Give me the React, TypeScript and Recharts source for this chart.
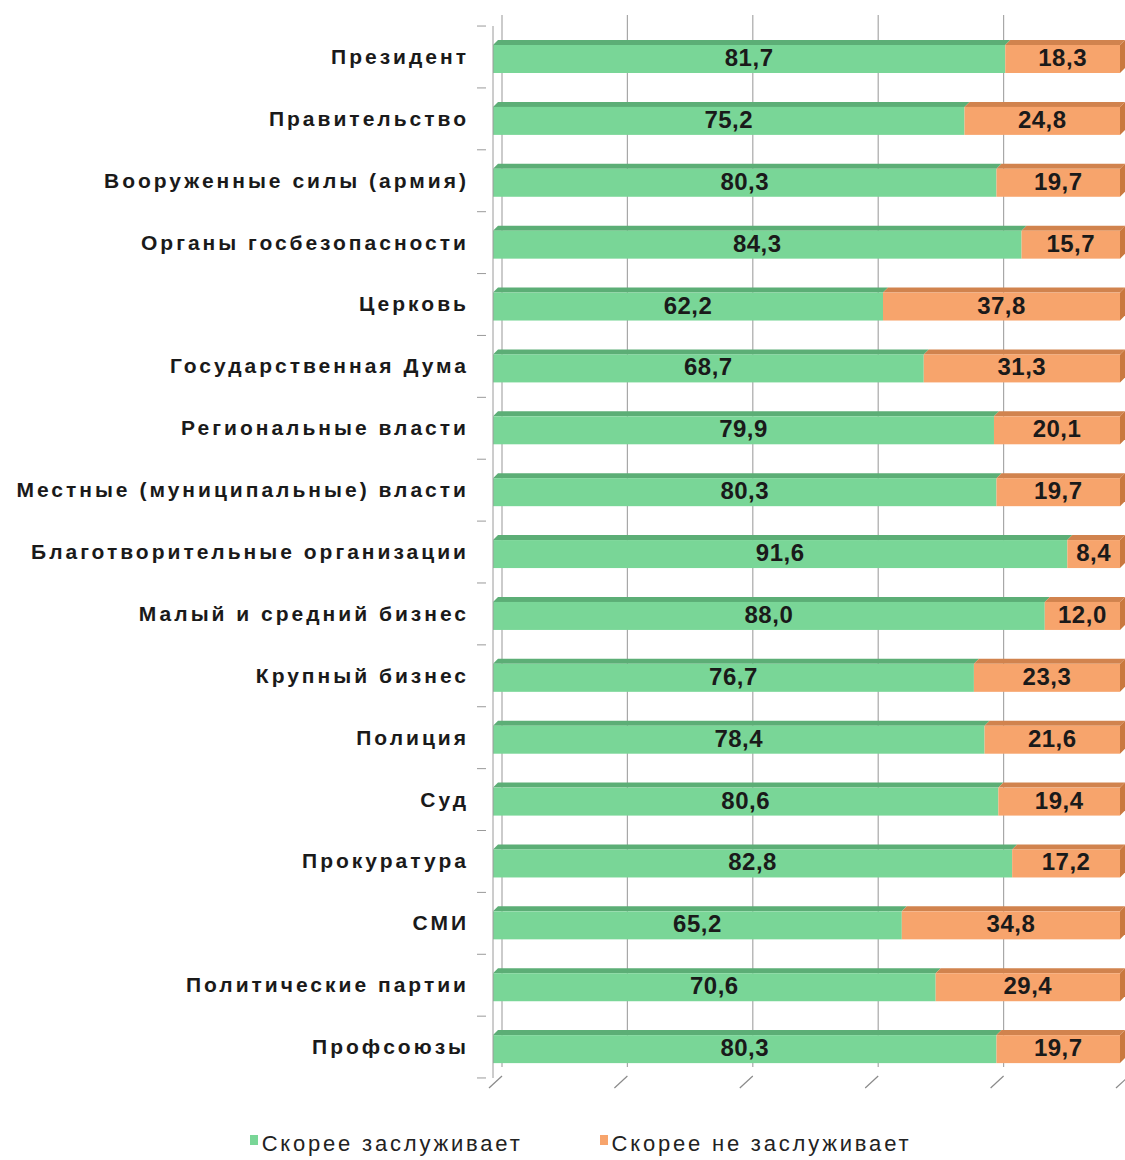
import React from 'react';
import { BarChart, Bar, XAxis, YAxis, CartesianGrid, Legend, LabelList } from 'recharts';

const categories = [
  'Президент',
  'Правительство',
  'Вооруженные силы (армия)',
  'Органы госбезопасности',
  'Церковь',
  'Государственная Дума',
  'Региональные власти',
  'Местные (муниципальные) власти',
  'Благотворительные организации',
  'Малый и средний бизнес',
  'Крупный бизнес',
  'Полиция',
  'Суд',
  'Прокуратура',
  'СМИ',
  'Политические партии',
  'Профсоюзы',
];
const deserves = [81.7, 75.2, 80.3, 84.3, 62.2, 68.7, 79.9, 80.3, 91.6, 88.0, 76.7, 78.4, 80.6, 82.8, 65.2, 70.6, 80.3];
const notDeserves = [18.3, 24.8, 19.7, 15.7, 37.8, 31.3, 20.1, 19.7, 8.4, 12.0, 23.3, 21.6, 19.4, 17.2, 34.8, 29.4, 19.7];
const xTicks = [0, 20, 40, 60, 80, 100];
const seriesNames = ['Скорее заслуживает', 'Скорее не заслуживает'];

const data = categories.map((name, i) => ({ name, yes: deserves[i], no: notDeserves[i] }));

const GREEN = '#79d697';
const GREEN_TOP = '#5cae76';
const ORANGE = '#f7a46c';
const ORANGE_TOP = '#d1834e';
const ORANGE_SIDE = '#c9783f';
const D = 5;
const FONT = '"Liberation Sans", Arial, sans-serif';

const makeShape = (front: string, top: string, side: string | null) => (props: any) => {
  const { x, y, width, height } = props;
  if (width == null || width <= 0) return null;
  return (
    <g>
      <polygon points={`${x},${y + D} ${x + D},${y} ${x + width + D},${y} ${x + width},${y + D}`} fill={top} />
      <rect x={x} y={y + D} width={width} height={height - D} fill={front} />
      {side && (
        <polygon
          points={`${x + width},${y + D} ${x + width + D},${y} ${x + width + D},${y + height - D} ${x + width},${y + height}`}
          fill={side}
        />
      )}
    </g>
  );
};

const fmt = (v: any) => Number(v).toFixed(1).replace('.', ',');

const YTick = (props: any) => {
  const { x, y, payload, index } = props;
  const half = 30.9;
  return (
    <g>
      <text
        x={x - 16}
        y={y}
        dy={7}
        textAnchor="end"
        fill="#1a1a1a"
        fontFamily={FONT}
        fontWeight="bold"
        fontSize={21}
        letterSpacing={3}
      >
        {payload.value}
      </text>
      <line x1={x - 8} x2={x + 1} y1={y - half} y2={y - half} stroke="#9a9a9a" />
      {index === categories.length - 1 && (
        <line x1={x - 8} x2={x + 1} y1={y + half} y2={y + half} stroke="#9a9a9a" />
      )}
    </g>
  );
};

const XTick = (props: any) => {
  const { x, y } = props;
  return <line x1={x - 4} y1={y + 2} x2={x + 9} y2={y - 10} stroke="#8a8a8a" strokeWidth={1.2} />;
};

const GridLine = (props: any) => {
  const { x1, y1, y2 } = props;
  return <line x1={x1 + 9} x2={x1 + 9} y1={y1 - 11} y2={y2 - 11} stroke="#a8a8a8" strokeWidth={1.2} />;
};

const LegendContent = () => (
  <div style={{ display: 'flex', justifyContent: 'center', gap: 77, paddingTop: 17, paddingLeft: 41, fontFamily: FONT, fontSize: 22, color: '#222', letterSpacing: 2.8 }}>
    {[GREEN, ORANGE].map((c, i) => (
      <div key={i} style={{ display: 'flex', alignItems: 'center' }}>
        <span style={{ display: 'inline-block', width: 8, height: 10, background: c, marginRight: 4, marginTop: -8 }} />
        <span>{seriesNames[i]}</span>
      </div>
    ))}
  </div>
);

export default function App() {
  return (
    <div style={{ position: 'absolute', left: 0, top: 0, background: '#fff' }}>
      <BarChart
        width={1125}
        height={1160}
        data={data}
        layout="vertical"
        margin={{ top: 26, right: 5, left: 0, bottom: 2 }}
        barSize={33}
      >
        <CartesianGrid horizontal={false} vertical={GridLine as any} />
        <XAxis
          type="number"
          domain={[0, 100]}
          ticks={xTicks}
          axisLine={false}
          tickLine={false}
          tick={XTick as any}
          height={36}
          interval={0}
        />
        <YAxis
          type="category"
          dataKey="name"
          width={493}
          axisLine={{ stroke: '#9a9a9a' }}
          tickLine={false}
          tick={YTick as any}
          interval={0}
        />
        <Legend verticalAlign="bottom" height={44} content={LegendContent as any} />
        <Bar dataKey="yes" stackId="a" name={seriesNames[0]} fill={GREEN} isAnimationActive={false} shape={makeShape(GREEN, GREEN_TOP, null) as any}>
          <LabelList dataKey="yes" position="center" formatter={fmt} fill="#1a1a1a" fontFamily={FONT} fontWeight="bold" fontSize={24} letterSpacing={0.5} dy={1} />
        </Bar>
        <Bar dataKey="no" stackId="a" name={seriesNames[1]} fill={ORANGE} isAnimationActive={false} shape={makeShape(ORANGE, ORANGE_TOP, ORANGE_SIDE) as any}>
          <LabelList dataKey="no" position="center" formatter={fmt} fill="#1a1a1a" fontFamily={FONT} fontWeight="bold" fontSize={24} letterSpacing={0.5} dy={1} />
        </Bar>
      </BarChart>
    </div>
  );
}
